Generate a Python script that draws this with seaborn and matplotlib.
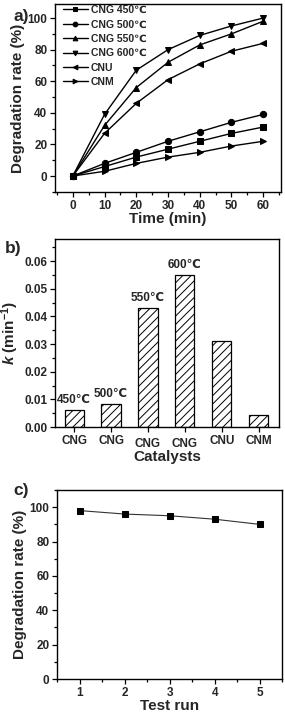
import matplotlib
matplotlib.use("Agg")
import matplotlib.pyplot as plt
import matplotlib.transforms as mtransforms
from matplotlib.ticker import MultipleLocator
import seaborn as sns
import numpy as np

sns.set_style("ticks")
plt.rcParams['font.family'] = ['Liberation Sans', 'DejaVu Sans']
plt.rcParams['font.weight'] = 'bold'
plt.rcParams['axes.labelweight'] = 'bold'
plt.rcParams['mathtext.fontset'] = 'custom'
plt.rcParams['mathtext.rm'] = 'Liberation Sans:bold'
plt.rcParams['mathtext.bf'] = 'Liberation Sans:bold'
plt.rcParams['mathtext.it'] = 'Liberation Sans:bold:italic'
plt.rcParams['hatch.linewidth'] = 0.7

# a) degradation vs time
time_min = [0, 10, 20, 30, 40, 50, 60]
series_names = ['CNG 450℃', 'CNG 500℃', 'CNG 550℃', 'CNG 600℃', 'CNU', 'CNM']
cng450 = [0, 6, 12, 17, 22, 27, 31]
cng500 = [0, 8, 15, 22, 28, 34, 39]
cng550 = [0, 32, 56, 72, 83, 90, 98]
cng600 = [0, 39, 67, 80, 89, 95, 100]
cnu = [0, 27, 46, 61, 71, 79, 84]
cnm = [0, 3, 8, 12, 15, 19, 22]
series_markers = ['s', 'o', '^', 'v', '<', '>']

# b) rate constants
catalysts = ['CNG 450', 'CNG 500', 'CNG 550', 'CNG 600', 'CNU', 'CNM']
cat_labels = ['CNG', 'CNG', 'CNG', 'CNG', 'CNU', 'CNM']
k_values = [0.0062, 0.0082, 0.043, 0.055, 0.031, 0.0042]
bar_notes = ['450℃', '500℃', '550℃', '600℃', '', '']

# c) recycling
test_run = [1, 2, 3, 4, 5]
recycle_rate = [98, 96, 95, 93, 90]

fig = plt.figure(figsize=(2.85, 7.12), dpi=100)
W, H = 285, 712


def px_axes(l, r, t, b):
    return fig.add_axes([l / W, 1 - b / H, (r - l) / W, (b - t) / H])


def style_axes(ax):
    for s in ax.spines.values():
        s.set_visible(True)
        s.set_linewidth(1.0)
        s.set_color('black')
    ax.tick_params(which='both', direction='out', top=False, right=False,
                   labelsize=8.5, width=0.9, color='black', pad=2)
    ax.tick_params(which='major', length=3.5)
    ax.tick_params(which='minor', length=2)


# panel a
ax1 = px_axes(55, 281, 4, 192)
all_series = [cng450, cng500, cng550, cng600, cnu, cnm]
for name, vals, mk in zip(series_names, all_series, series_markers):
    sns.lineplot(x=time_min, y=vals, ax=ax1, color='black', marker=mk,
                 markersize=4.5, markeredgecolor='black', linewidth=1.0,
                 label=name)
ax1.set_xlim(-5.6, 65.6)
ax1.set_ylim(-10.1, 108.9)
ax1.xaxis.set_major_locator(MultipleLocator(10))
ax1.xaxis.set_minor_locator(MultipleLocator(5))
ax1.yaxis.set_major_locator(MultipleLocator(20))
ax1.yaxis.set_minor_locator(MultipleLocator(10))
ax1.set_xlabel('Time (min)', fontsize=11, labelpad=0)
ax1.set_ylabel('Degradation rate (%)', fontsize=11, labelpad=2)
leg = ax1.legend(loc='upper left', bbox_to_anchor=(0.03, 1.0), frameon=False,
                 fontsize=7.5, handlelength=2.4, handletextpad=0.3,
                 labelspacing=0.42, borderaxespad=0, borderpad=0.1,
                 markerscale=0.75)
for t in leg.get_texts():
    t.set_fontweight('bold')
style_axes(ax1)

# panel b
ax2 = px_axes(55, 279, 239, 427)
sns.barplot(x=catalysts, y=k_values, ax=ax2, color='white', edgecolor='black',
            linewidth=0.9, width=0.52, hatch='////')
ax2.set_xlim(-0.52, 5.55)
ax2.set_ylim(0, 0.068)
ax2.yaxis.set_major_locator(MultipleLocator(0.01))
ax2.yaxis.set_minor_locator(MultipleLocator(0.005))
ax2.yaxis.set_major_formatter(plt.FormatStrFormatter('%.2f'))
ax2.set_xticks(range(len(cat_labels)))
ax2.set_xticklabels(cat_labels)
for i, (v, note) in enumerate(zip(k_values, bar_notes)):
    if note:
        ax2.annotate(note, (i, v), xytext=(0, 3), textcoords='offset points',
                     ha='center', va='bottom', fontsize=8.5, fontweight='bold')
ax2.set_xlabel('Catalysts', fontsize=11, labelpad=0)
ax2.set_ylabel(r'$\mathit{k}$ (min$^{-1}$)', fontsize=11, labelpad=2)
style_axes(ax2)
ax2.tick_params(axis='x', which='minor', bottom=False)
for i, lab in enumerate(ax2.get_xticklabels()):
    if i in (2, 3):
        lab.set_transform(lab.get_transform() + mtransforms.ScaledTranslation(
            0, -3 / 100, fig.dpi_scale_trans))

# panel c
ax3 = px_axes(57, 282, 490, 679)
sns.lineplot(x=test_run, y=recycle_rate, ax=ax3, color='#333333', marker='s',
             markersize=4, markerfacecolor='black', markeredgecolor='black',
             linewidth=0.8)
ax3.set_xlim(0.49, 5.5)
ax3.set_ylim(0, 110)
ax3.xaxis.set_major_locator(MultipleLocator(1))
ax3.xaxis.set_minor_locator(MultipleLocator(0.5))
ax3.yaxis.set_major_locator(MultipleLocator(20))
ax3.yaxis.set_minor_locator(MultipleLocator(10))
ax3.set_xlabel('Test run', fontsize=11, labelpad=0)
ax3.set_ylabel('Degradation rate (%)', fontsize=11, labelpad=2)
style_axes(ax3)

for ax in (ax1, ax2, ax3):
    for lab in ax.get_xticklabels() + ax.get_yticklabels():
        lab.set_fontweight('bold')

# panel letters
fig.text(13 / W, 1 - 16 / H, 'a)', fontsize=12.5, fontweight='bold', va='center')
fig.text(5 / W, 1 - 249 / H, 'b)', fontsize=12.5, fontweight='bold', va='center')
fig.text(13 / W, 1 - 490 / H, 'c)', fontsize=12.5, fontweight='bold', va='center')

fig.savefig('out.png', dpi=100)
